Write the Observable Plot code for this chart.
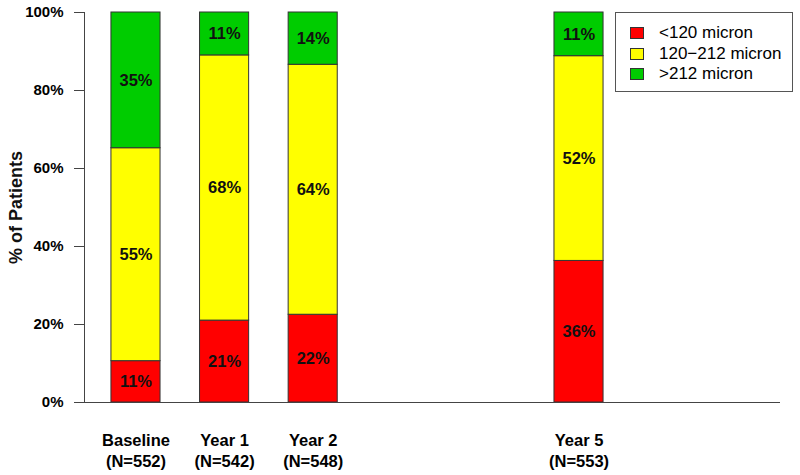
<!DOCTYPE html>
<html>
<head>
<meta charset="utf-8">
<script src="https://cdn.jsdelivr.net/npm/d3@7"></script>
<script src="https://cdn.jsdelivr.net/npm/@observablehq/plot@0.6"></script>
<style>
  html, body { margin: 0; padding: 0; background: #fff; }
  #wrap { position: relative; width: 800px; height: 475px; font-family: "Liberation Sans", Arial, sans-serif; }
  #legend { position: absolute; left: 615px; top: 12px; width: 176px; height: 78px; border: 1px solid #555; background: #fff; }
  .row { position: absolute; left: 14px; height: 20px; display: flex; align-items: center; font-size: 17px; color: #000; }
  .sw { width: 12px; height: 10px; border: 1px solid #333; margin-right: 15px; }
</style>
</head>
<body>
<div id="wrap"></div>
<script>
// Data
const timepoints = ["Baseline", "Year 1", "Year 2", "Year 5"];
const years = [0, 1, 2, 5];
const nLabels = ["(N=552)", "(N=542)", "(N=548)", "(N=553)"];
const categories = ["<120 micron", "120\u2212212 micron", ">212 micron"];
const colors = ["#ff0000", "#ffff00", "#00cc00"];
const below120 = [10.6, 21.0, 22.5, 36.3];
const mid120to212 = [54.6, 68.0, 64.1, 52.5];
const above212 = [34.8, 11.0, 13.4, 11.2];
const labels120 = ["11%", "21%", "22%", "36%"];
const labelsMid = ["55%", "68%", "64%", "52%"];
const labelsAbove = ["35%", "11%", "14%", "11%"];
const yTicks = [0, 20, 40, 60, 80, 100];

// Build table
const series = [below120, mid120to212, above212];
const labelSets = [labels120, labelsMid, labelsAbove];
const halfWidth = 0.277;
const rows = [];
years.forEach((yr, i) => {
  let base = 0;
  series.forEach((s, k) => {
    rows.push({
      year: yr, x1: yr - halfWidth, x2: yr + halfWidth,
      y1: base, y2: base + s[i], ym: base + s[i] / 2,
      cat: categories[k], label: labelSets[k][i]
    });
    base += s[i];
  });
});

const chart = Plot.plot({
  width: 800,
  height: 475,
  marginLeft: 84,
  marginRight: 20,
  marginTop: 12,
  marginBottom: 73,
  style: { fontFamily: "'Liberation Sans', Arial, sans-serif", background: "#fff" },
  x: { type: "linear", domain: [-0.581, 7.274] },
  y: { domain: [0, 100] },
  color: { domain: categories, range: colors },
  marks: [
    Plot.rect(rows, { x1: "x1", x2: "x2", y1: "y1", y2: "y2", fill: "cat", stroke: "#333", strokeWidth: 1 }),
    Plot.text(rows, { x: "year", y: "ym", text: "label", fontSize: 16.5, fontWeight: "bold", fill: "#111" }),
    Plot.frame({ anchor: "left", stroke: "#444" }),
    Plot.ruleY([0], { stroke: "#444", insetLeft: -10 }),
    Plot.axisY({
      ticks: yTicks, tickFormat: d => d + "%", tickSize: 10, tickPadding: 11,
      fontSize: 15, fontWeight: "bold", stroke: "#444", label: null
    }),
    Plot.axisX({
      ticks: years, tickFormat: (d) => timepoints[years.indexOf(d)] + "\n" + nLabels[years.indexOf(d)],
      tickSize: 0, tickPadding: 28, fontSize: 16.5, fontWeight: "bold", lineHeight: 1.28, label: null
    }),
    Plot.text(["% of Patients"], {
      frameAnchor: "left", textAnchor: "middle", dx: -68, rotate: -90, fontSize: 18, fontWeight: "bold", fill: "#111"
    })
  ]
});

const wrap = document.getElementById("wrap");
wrap.appendChild(chart);

// Legend (top right, inside plot area)
const legend = document.createElement("div");
legend.id = "legend";
categories.forEach((c, k) => {
  const r = document.createElement("div");
  r.className = "row";
  r.style.top = (10 + k * 20.5) + "px";
  const sw = document.createElement("span");
  sw.className = "sw";
  sw.style.background = colors[k];
  const t = document.createElement("span");
  t.textContent = c;
  r.appendChild(sw); r.appendChild(t);
  legend.appendChild(r);
});
wrap.appendChild(legend);
</script>
</body>
</html>
